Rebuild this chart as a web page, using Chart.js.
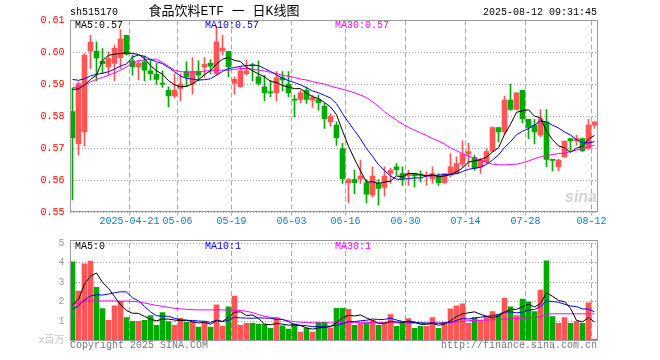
<!DOCTYPE html>
<html><head><meta charset="utf-8">
<script src="https://cdn.jsdelivr.net/npm/chart.js@4.4.1/dist/chart.umd.min.js"></script>
<style>
html,body{margin:0;padding:0;background:#fff;}
#wrap{position:relative;width:660px;height:360px;overflow:hidden;font-family:"Liberation Mono","DejaVu Sans Mono","Noto Sans CJK SC",monospace;font-size:10px;}
.t{position:absolute;white-space:pre;line-height:12px;}
canvas{position:absolute;left:0;}
</style></head><body>
<div id="wrap">
<canvas id="c1" width="660" height="232" style="top:0;width:660px;height:232px"></canvas>
<canvas id="c2" width="660" height="128" style="top:232px;width:660px;height:128px"></canvas>
<div class="t" style="left:70px;top:7px;color:#000">sh515170</div>
<div class="t" style="left:114px;top:4px;width:220px;text-align:center;font-size:13px;line-height:16px;color:#000">食品饮料ETF 一 日K线图</div>
<div class="t" style="right:63px;top:7px;color:#000">2025-08-12 09:31:45</div>
<div class="t" style="left:75px;top:20px;color:#000">MA5:0.57</div>
<div class="t" style="left:205px;top:20px;color:#0000ff">MA10:0.57</div>
<div class="t" style="left:335px;top:20px;color:#ff00ff">MA30:0.57</div>
<div class="t" style="left:75px;top:241px;color:#000">MA5:0</div>
<div class="t" style="left:205px;top:241px;color:#0000ff">MA10:1</div>
<div class="t" style="left:335px;top:241px;color:#ff00ff">MA30:1</div>
<div class="t" style="left:70px;top:340px;color:#777">Copyright 2025 SINA.COM</div>
<div class="t" style="right:63px;top:340px;color:#777">http://finance.sina.com.cn</div>
<div class="t" style="left:565px;top:188px;font:italic bold 16px 'Liberation Sans',sans-serif;color:#d4d4d4">sina</div>
</div>
<script>
const dates = ['2025-04-07','2025-04-08','2025-04-09','2025-04-10','2025-04-11','2025-04-14','2025-04-15','2025-04-16','2025-04-17','2025-04-18',
'2025-04-21','2025-04-22','2025-04-23','2025-04-24','2025-04-25','2025-04-28','2025-04-29','2025-04-30','2025-05-06','2025-05-07',
'2025-05-08','2025-05-09','2025-05-12','2025-05-13','2025-05-14','2025-05-15','2025-05-16','2025-05-19','2025-05-20','2025-05-21',
'2025-05-22','2025-05-23','2025-05-26','2025-05-27','2025-05-28','2025-05-29','2025-05-30','2025-06-03','2025-06-04','2025-06-05',
'2025-06-06','2025-06-09','2025-06-10','2025-06-11','2025-06-12','2025-06-13','2025-06-16','2025-06-17','2025-06-18','2025-06-19',
'2025-06-20','2025-06-23','2025-06-24','2025-06-25','2025-06-26','2025-06-27','2025-06-30','2025-07-01','2025-07-02','2025-07-03',
'2025-07-04','2025-07-07','2025-07-08','2025-07-09','2025-07-10','2025-07-11','2025-07-14','2025-07-15','2025-07-16','2025-07-17',
'2025-07-18','2025-07-21','2025-07-22','2025-07-23','2025-07-24','2025-07-25','2025-07-28','2025-07-29','2025-07-30','2025-07-31',
'2025-08-01','2025-08-04','2025-08-05','2025-08-06','2025-08-07','2025-08-08','2025-08-11','2025-08-12'];

const tickDates = ['2025-04-21','2025-05-06','2025-05-19','2025-06-03','2025-06-16','2025-06-30','2025-07-14','2025-07-28','2025-08-12'];
const tickLabels = ['2025-04-21','05-06','05-19','06-03','06-16','06-30','07-14','07-28','08-12'];

const open = [0.5815,0.5714,0.5752,0.6005,0.6004,0.5973,0.5955,0.5966,0.5984,0.6054,
0.5974,0.5955,0.5971,0.5943,0.5932,0.5903,0.5882,0.5864,0.5888,0.5940,
0.5901,0.5940,0.5955,0.5966,0.5934,0.6005,0.6004,0.5903,0.5893,0.5934,
0.5960,0.5924,0.5893,0.5876,0.5874,0.5922,0.5901,0.5853,0.5853,0.5882,
0.5851,0.5853,0.5832,0.5783,0.5773,0.5700,0.5593,0.5603,0.5605,0.5593,
0.5554,0.5591,0.5578,0.5622,0.5643,0.5622,0.5614,0.5622,0.5618,0.5614,
0.5606,0.5614,0.5593,0.5617,0.5622,0.5651,0.5682,0.5672,0.5641,0.5658,
0.5692,0.5765,0.5752,0.5851,0.5822,0.5882,0.5791,0.5773,0.5742,0.5783,
0.5665,0.5643,0.5674,0.5731,0.5724,0.5731,0.5700,0.5773];

const high = [0.5888,0.5908,0.5997,0.6054,0.6033,0.6012,0.6002,0.6023,0.6072,0.6054,
0.5992,0.5976,0.5989,0.5978,0.5966,0.5943,0.5893,0.5934,0.5934,0.5971,
0.5984,0.5974,0.5984,0.5978,0.6082,0.6054,0.6004,0.5924,0.5955,0.5976,
0.5966,0.5974,0.5929,0.5914,0.5940,0.5940,0.5940,0.5867,0.5882,0.5893,
0.5867,0.5867,0.5841,0.5809,0.5783,0.5716,0.5606,0.5632,0.5664,0.5603,
0.5643,0.5603,0.5643,0.5638,0.5653,0.5643,0.5632,0.5622,0.5630,0.5627,
0.5643,0.5622,0.5622,0.5684,0.5674,0.5724,0.5716,0.5679,0.5669,0.5700,
0.5768,0.5765,0.5864,0.5901,0.5874,0.5882,0.5791,0.5791,0.5822,0.5822,
0.5666,0.5666,0.5723,0.5731,0.5742,0.5731,0.5791,0.5783];

const low = [0.5539,0.5679,0.5707,0.5950,0.5911,0.5934,0.5929,0.5911,0.5950,0.5992,
0.5929,0.5914,0.5911,0.5914,0.5900,0.5891,0.5830,0.5859,0.5849,0.5893,
0.5870,0.5911,0.5922,0.5934,0.5929,0.5992,0.5924,0.5870,0.5891,0.5929,
0.5911,0.5898,0.5849,0.5861,0.5849,0.5880,0.5861,0.5799,0.5843,0.5841,
0.5828,0.5820,0.5763,0.5770,0.5710,0.5591,0.5530,0.5559,0.5591,0.5530,
0.5549,0.5523,0.5551,0.5591,0.5617,0.5585,0.5585,0.5580,0.5596,0.5585,
0.5591,0.5585,0.5591,0.5611,0.5622,0.5643,0.5643,0.5632,0.5622,0.5653,
0.5690,0.5721,0.5745,0.5820,0.5820,0.5780,0.5731,0.5714,0.5736,0.5643,
0.5630,0.5630,0.5672,0.5693,0.5710,0.5690,0.5697,0.5763];

const close = [0.5734,0.5903,0.5992,0.6032,0.5983,0.5965,0.5981,0.6013,0.6042,0.5995,
0.5955,0.5966,0.5945,0.5934,0.5916,0.5901,0.5864,0.5882,0.5901,0.5924,
0.5940,0.5929,0.5963,0.5957,0.6033,0.6014,0.5955,0.5916,0.5943,0.5943,
0.5958,0.5903,0.5874,0.5874,0.5922,0.5914,0.5874,0.5851,0.5874,0.5853,
0.5859,0.5843,0.5793,0.5801,0.5734,0.5606,0.5603,0.5593,0.5614,0.5557,
0.5614,0.5575,0.5614,0.5632,0.5634,0.5606,0.5622,0.5614,0.5616,0.5616,
0.5622,0.5593,0.5622,0.5643,0.5653,0.5682,0.5690,0.5638,0.5664,0.5690,
0.5765,0.5752,0.5851,0.5822,0.5874,0.5793,0.5766,0.5752,0.5793,0.5666,
0.5663,0.5664,0.5723,0.5724,0.5731,0.5693,0.5773,0.5783];

const ma5 = [0.5885,0.5886,0.5898,0.5916,0.5929,0.5975,0.5991,0.5995,0.5997,0.5999,
0.5997,0.5994,0.5981,0.5959,0.5943,0.5932,0.5912,0.5899,0.5893,0.5894,
0.5902,0.5915,0.5931,0.5943,0.5964,0.5979,0.5984,0.5975,0.5972,0.5954,
0.5943,0.5933,0.5924,0.5910,0.5906,0.5897,0.5892,0.5887,0.5887,0.5873,
0.5862,0.5856,0.5844,0.5830,0.5806,0.5755,0.5707,0.5667,0.5630,0.5595,
0.5596,0.5591,0.5595,0.5598,0.5614,0.5612,0.5622,0.5622,0.5618,0.5615,
0.5618,0.5612,0.5614,0.5619,0.5627,0.5639,0.5658,0.5661,0.5665,0.5673,
0.5689,0.5702,0.5744,0.5776,0.5813,0.5818,0.5821,0.5801,0.5796,0.5754,
0.5728,0.5708,0.5702,0.5688,0.5701,0.5707,0.5729,0.5741];

const ma10 = [0.5916,0.5913,0.5918,0.5927,0.5932,0.5935,0.5940,0.5948,0.5958,0.5964,
0.5986,0.5992,0.5988,0.5978,0.5971,0.5965,0.5953,0.5940,0.5926,0.5919,
0.5917,0.5914,0.5915,0.5918,0.5929,0.5941,0.5950,0.5953,0.5957,0.5959,
0.5961,0.5959,0.5950,0.5941,0.5930,0.5920,0.5912,0.5906,0.5899,0.5890,
0.5880,0.5874,0.5866,0.5858,0.5840,0.5809,0.5782,0.5756,0.5730,0.5700,
0.5676,0.5649,0.5631,0.5614,0.5604,0.5604,0.5606,0.5608,0.5608,0.5614,
0.5615,0.5617,0.5618,0.5619,0.5621,0.5628,0.5635,0.5638,0.5642,0.5650,
0.5664,0.5680,0.5703,0.5721,0.5743,0.5754,0.5762,0.5773,0.5786,0.5783,
0.5773,0.5764,0.5752,0.5742,0.5728,0.5718,0.5718,0.5721];

const ma30 = [0.5890,0.5893,0.5898,0.5908,0.5916,0.5922,0.5929,0.5936,0.5945,0.5955,
0.5966,0.5974,0.5977,0.5979,0.5979,0.5969,0.5957,0.5945,0.5940,0.5939,
0.5939,0.5940,0.5942,0.5943,0.5945,0.5945,0.5945,0.5947,0.5950,0.5950,
0.5948,0.5945,0.5942,0.5938,0.5934,0.5929,0.5926,0.5922,0.5917,0.5914,
0.5909,0.5905,0.5901,0.5895,0.5890,0.5885,0.5880,0.5874,0.5867,0.5859,
0.5846,0.5832,0.5815,0.5801,0.5789,0.5776,0.5766,0.5757,0.5749,0.5741,
0.5731,0.5723,0.5714,0.5702,0.5693,0.5684,0.5676,0.5670,0.5664,0.5657,
0.5651,0.5649,0.5649,0.5650,0.5651,0.5655,0.5661,0.5668,0.5674,0.5678,
0.5681,0.5684,0.5686,0.5690,0.5695,0.5700,0.5705,0.5710];

const volume = [4.03,2.53,3.93,4.07,2.73,1.64,1.03,1.78,2.01,1.18,
0.98,0.98,1.04,1.28,0.78,1.43,0.97,0.78,1.14,0.93,
0.96,0.69,0.94,0.69,1.83,0.74,1.73,2.28,0.78,0.88,
0.88,0.84,0.83,0.62,1.18,0.75,0.58,0.85,0.43,0.63,
0.43,0.93,0.93,0.64,1.65,1.65,1.60,0.78,0.88,0.88,
1.03,0.78,0.88,1.33,0.73,0.93,1.13,0.63,0.73,0.73,
1.18,0.63,0.93,1.63,1.78,1.88,0.88,1.18,1.03,1.23,
1.48,1.33,2.18,1.73,1.28,2.13,1.98,1.48,2.58,4.08,
1.23,0.88,1.18,0.88,0.98,0.88,1.93,0.07];

const vma5 = [1.85,2.10,2.90,3.30,3.46,2.98,2.68,2.25,1.84,1.53,
1.40,1.39,1.24,1.09,1.01,1.10,1.10,1.05,1.02,1.05,
0.96,0.90,0.93,0.84,1.02,0.98,1.19,1.45,1.47,1.28,
1.31,1.13,0.84,0.81,0.87,0.84,0.79,0.80,0.76,0.65,
0.58,0.65,0.67,0.71,0.92,1.16,1.29,1.26,1.31,1.16,
1.03,0.87,0.89,0.98,0.95,0.93,1.00,0.95,0.83,0.83,
0.88,0.78,0.84,1.02,1.23,1.37,1.42,1.47,1.35,1.24,
1.16,1.25,1.45,1.59,1.60,1.73,1.86,1.72,1.89,2.45,
2.27,2.05,1.99,1.65,1.03,0.96,1.17,0.95];

const vma10 = [1.60,1.78,2.08,2.28,2.35,2.33,2.38,2.45,2.50,2.49,
2.19,2.03,1.74,1.47,1.27,1.25,1.24,1.14,1.06,1.03,
1.03,1.00,0.99,0.93,1.04,0.97,1.04,1.19,1.16,1.15,
1.14,1.16,1.15,1.14,1.08,1.08,0.96,0.82,0.78,0.76,
0.71,0.72,0.73,0.74,0.78,0.87,0.97,0.97,1.01,1.04,
1.10,1.08,1.08,1.15,1.05,0.98,0.94,0.92,0.91,0.89,
0.91,0.89,0.90,0.93,1.03,1.13,1.10,1.16,1.19,1.24,
1.27,1.34,1.46,1.47,1.42,1.45,1.56,1.59,1.74,2.03,
2.00,1.96,1.86,1.77,1.74,1.62,1.61,1.47];

const vma30 = [1.83,1.93,2.02,2.03,2.03,2.03,2.03,2.03,2.02,2.02,
2.01,1.98,1.92,1.86,1.80,1.75,1.70,1.65,1.62,1.60,
1.58,1.57,1.57,1.57,1.57,1.57,1.57,1.56,1.54,1.50,
1.43,1.33,1.24,1.19,1.15,1.08,1.01,0.97,0.94,0.92,
0.91,0.90,0.90,0.90,0.91,0.92,0.93,0.93,0.93,0.93,
0.92,0.92,0.91,0.91,0.90,0.90,0.89,0.89,0.88,0.88,
0.87,0.88,0.90,0.92,0.96,0.99,1.02,1.03,1.04,1.05,
1.06,1.08,1.10,1.11,1.12,1.14,1.16,1.18,1.22,1.35,
1.37,1.37,1.37,1.37,1.37,1.37,1.37,1.37];

const UP = '#ff5555', DOWN = '#00aa00';
const FONT = '"Liberation Mono","DejaVu Sans Mono","Noto Sans CJK SC",monospace';
const GRID = '#aaaaaa';
const FRAME = '#999999';
const tickIdx = tickDates.map(d => dates.indexOf(d));
const candleColor = ctx => close[ctx.dataIndex] >= open[ctx.dataIndex] ? UP : DOWN;

function framePlugin(x0, y0, x1, y1) {
  return {
    id: 'frame',
    afterDatasetsDraw(chart) {
      const c = chart.ctx;
      c.save();
      c.strokeStyle = FRAME;
      c.lineWidth = 1;
      c.strokeRect(x0, y0, x1 - x0, y1 - y0);
      c.restore();
    }
  };
}

function lineDs(data, color) {
  return {type: 'line', data, borderColor: color, borderWidth: 1, pointRadius: 0,
          tension: 0, fill: false, order: 0};
}

const xGridColor = ctx => tickIdx.includes(ctx.index) ? GRID : 'rgba(0,0,0,0)';

new Chart(document.getElementById('c1'), {
  data: {
    labels: dates,
    datasets: [
      lineDs(ma5, '#000000'),
      lineDs(ma10, '#0000ff'),
      lineDs(ma30, '#ff00ff'),
      {type: 'bar', data: dates.map((d, i) => [open[i], close[i]]), backgroundColor: candleColor,
       barThickness: 5, grouped: false, minBarLength: 1, borderWidth: 0, order: 2},
      {type: 'bar', data: dates.map((d, i) => [low[i], high[i]]), backgroundColor: candleColor,
       barThickness: 1, grouped: false, borderWidth: 0, order: 3}
    ]
  },
  options: {
    responsive: false, animation: false, devicePixelRatio: 1,
    layout: {padding: {left: 0, right: 62.5, top: 20.5, bottom: 0}},
    plugins: {legend: {display: false}, tooltip: {enabled: false}},
    scales: {
      x: {
        type: 'category', offset: true,
        grid: {offset: true, color: xGridColor, tickColor: xGridColor, lineWidth: 1, drawTicks: true, tickLength: 3},
        border: {display: false, dash: [5, 3]},
        ticks: {autoSkip: false, maxRotation: 0, minRotation: 0, padding: 0, labelOffset: -3,
                color: '#0a80d0', font: {family: FONT, size: 10},
                callback: (v, i) => { const k = tickIdx.indexOf(i); return k >= 0 ? tickLabels[k] : ''; }},
        afterFit: s => { s.height = 19.5; }
      },
      y: {
        min: 0.55, max: 0.61,
        grid: {color: GRID, drawTicks: false, lineWidth: 1},
        border: {display: false, dash: [1, 2]},
        ticks: {stepSize: 0.01, color: '#ff0000', padding: 5, font: {family: FONT, size: 10},
                callback: v => Number(v).toFixed(2)},
        afterFit: s => { s.width = 69.5; }
      }
    }
  },
  plugins: [framePlugin(70.5, 20.5, 597.5, 211.5)]
});

new Chart(document.getElementById('c2'), {
  data: {
    labels: dates,
    datasets: [
      lineDs(vma5, '#000000'),
      lineDs(vma10, '#0000ff'),
      lineDs(vma30, '#ff00ff'),
      {type: 'bar', data: volume, backgroundColor: candleColor, barThickness: 5, grouped: false,
       borderWidth: 0, order: 2}
    ]
  },
  options: {
    responsive: false, animation: false, devicePixelRatio: 1,
    layout: {padding: {left: 0, right: 62.5, top: 8.5, bottom: 0}},
    plugins: {legend: {display: false}, tooltip: {enabled: false}},
    scales: {
      x: {
        type: 'category', offset: true,
        grid: {offset: true, color: xGridColor, lineWidth: 1, drawTicks: false},
        border: {display: false, dash: [5, 3]},
        ticks: {display: false},
        afterFit: s => { s.height = 19.5; }
      },
      y: {
        min: 0, max: 5,
        grid: {color: GRID, drawTicks: false, lineWidth: 1},
        border: {display: false, dash: [1, 2]},
        ticks: {stepSize: 1, padding: 5, font: {family: FONT, size: 10},
                color: ctx => ctx.tick && ctx.tick.value === 0 ? '#c8c8c8' : '#a0a0a0',
                callback: v => v === 0 ? 'x百万' : String(v)},
        afterFit: s => { s.width = 69.5; }
      }
    }
  },
  plugins: [framePlugin(70.5, 8.5, 597.5, 108.5)]
});
</script>
</body></html>
